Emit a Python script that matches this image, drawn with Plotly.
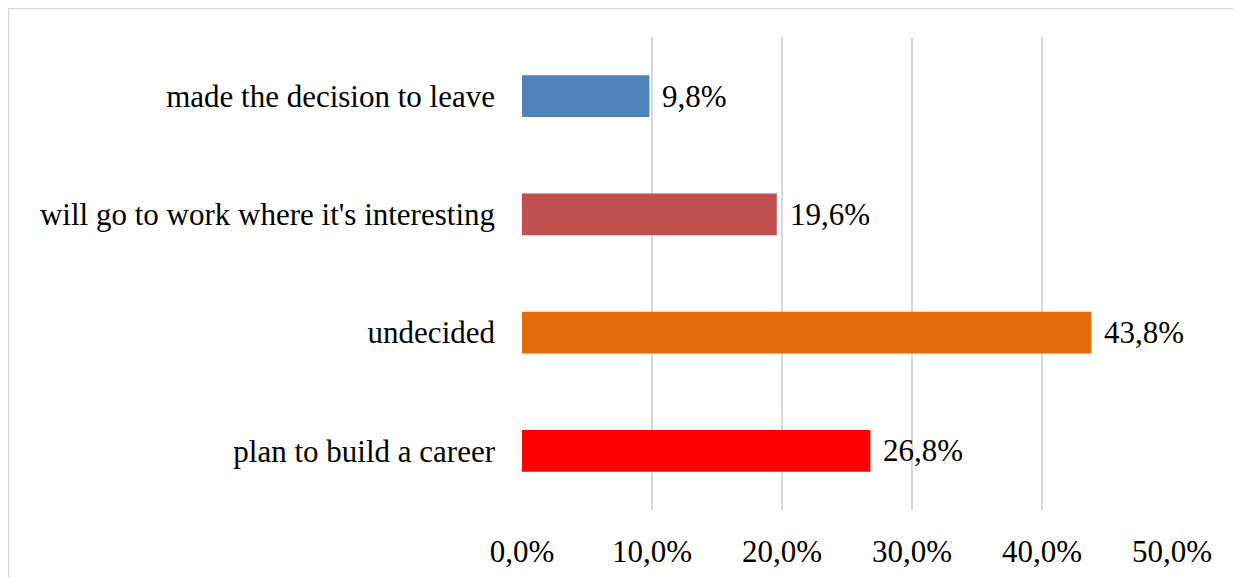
import plotly.graph_objects as go

# Survey answers (share of respondents, %)
categories = [
    "made the decision to leave",
    "will go to work where it's interesting",
    "undecided",
    "plan to build a career",
]
values = [9.8, 19.6, 43.8, 26.8]
colors = ["#4F81BD", "#C0504D", "#E46C0A", "#FF0000"]
tick_vals = [0, 10, 20, 30, 40, 50]
tick_text = ["0,0%", "10,0%", "20,0%", "30,0%", "40,0%", "50,0%"]

FONT = "Liberation Serif, Times New Roman, serif"
FSIZE = 31

fig = go.Figure()

fig.add_trace(go.Bar(
    x=values,
    y=categories,
    orientation="h",
    marker=dict(color=colors, line=dict(width=0)),
    width=0.355,
    hoverinfo="x+y",
))

# value labels to the right of each bar
for cat, val in zip(categories, values):
    fig.add_annotation(
        x=val, y=cat,
        text=f"{val:.1f}%".replace(".", ","),
        showarrow=False,
        xanchor="left",
        xshift=11,
        font=dict(family=FONT, size=FSIZE, color="#000000"),
    )

# light outer frame like the original office chart
fig.add_shape(
    type="rect", xref="paper", yref="paper",
    x0=-0.790, x1=1.2, y0=-0.3, y1=1.060,
    line=dict(color="#D9D9D9", width=1.5),
    fillcolor="rgba(0,0,0,0)",
    layer="below",
)

fig.update_layout(
    width=1241,
    height=577,
    margin=dict(l=514, r=77, t=29, b=75),
    paper_bgcolor="white",
    plot_bgcolor="white",
    showlegend=False,
    font=dict(family=FONT, size=FSIZE, color="#000000"),
    xaxis=dict(
        range=[0, 50],
        tickvals=tick_vals,
        ticktext=tick_text,
        showgrid=True,
        gridcolor="#D9D9D9",
        gridwidth=1.5,
        zeroline=False,
        showline=False,
        ticks="",
        ticklabelstandoff=20,
        tickfont=dict(family=FONT, size=FSIZE),
    ),
    yaxis=dict(
        autorange="reversed",
        showgrid=False,
        zeroline=False,
        showline=False,
        ticks="",
        ticklabelstandoff=26,
        tickfont=dict(family=FONT, size=FSIZE),
    ),
)

fig.write_html("out.html")
